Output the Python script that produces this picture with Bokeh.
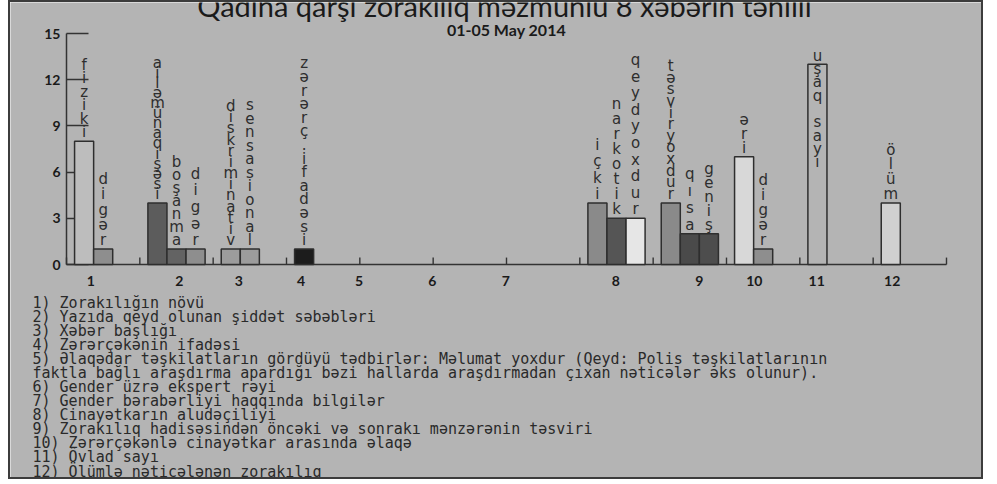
from bokeh.plotting import figure
from bokeh.models import Range1d, FixedTicker, Label, ColumnDataSource, LinearAxis
from bokeh.core.properties import value
from bokeh.embed import file_html
from bokeh.resources import INLINE

# ---------------- data ----------------
categories = ["1", "2", "3", "4", "5", "6", "7", "8", "9", "10", "11", "12"]
category_label_pos = [0.33, 1.54, 2.35, 3.2, 3.99, 4.99, 5.99, 7.49, 8.63, 9.38, 10.23, 11.26]
bar_category = [1, 1, 2, 2, 2, 3, 3, 4, 8, 8, 8, 9, 9, 9, 10, 10, 11, 12]
bar_labels = ["fiziki", "digər", "ailəmünaqişəsi", "boşanma", "digər",
              "diskriminativ", "sensasional", "zərərç.ifadəsi",
              "içki", "narkotik", "qeydyoxdur", "təsviryoxdur", "qısa", "geniş",
              "əri", "digər", "uşaq sayı", "ölüm"]
bar_values = [8, 1, 4, 1, 1, 1, 1, 1, 4, 3, 3, 4, 2, 2, 7, 1, 13, 4]
y_ticks = [0, 3, 6, 9, 12, 15]
title_text = "Qadına qarşı zorakılıq məzmunlu 8 xəbərin təhlili"
subtitle_text = "01-05 May 2014"
notes = [
    "1) Zorakılığın növü",
    "2) Yazıda qeyd olunan şiddət səbəbləri",
    "3) Xəbər başlığı",
    "4) Zərərçəkənin ifadəsi",
    "5) Əlaqədar təşkilatların gördüyü tədbirlər: Məlumat yoxdur (Qeyd: Polis təşkilatlarının",
    "faktla bağlı araşdırma apardığı bəzi hallarda araşdırmadan çıxan nəticələr əks olunur).",
    "6) Gender üzrə ekspert rəyi",
    "7) Gender bərabərliyi haqqında bilgilər",
    "8) Cinayətkarın aludəçiliyi",
    "9) Zorakılıq hadisəsindən öncəki və sonrakı mənzərənin təsviri",
    "10) Zərərçəkənlə cinayətkar arasında əlaqə",
    "11) Övlad sayı",
    "12) Ölümlə nəticələnən zorakılıq",
]

# ---------------- styles / layout ----------------
BG = "#b4b4b4"
EDGE = "#2e2e2e"
AXIS = "#333333"
W, H = 971, 475                 # canvas size
AX_LEFT, AX_BOTTOM = 56, 262    # pixel position of the (0, 0) corner of the chart
PX_X, PX_Y = 73.333, 15.4       # pixels per unit
bar_fill = ["#bdbdbd", "#8e8e8e", "#5c5c5c", "#636363", "#8e8e8e",
            "#9c9c9c", "#9c9c9c", "#1c1c1c",
            "#8a8a8a", "#555555", "#e6e6e6", "#8a8a8a", "#4a4a4a", "#4d4d4d",
            "#d8d8d8", "#8e8e8e", "#b4b4b4", "#d0d0d0"]
label_line_height = [0.75, 0.845, 0.56, 0.725, 0.92, 0.62, 0.75, 0.755,
                     0.90, 0.835, 0.92, 0.645, 0.93, 0.77, 0.76, 0.83, 0.74, 0.82]
label_y_offset = [0, 0, 0, 0, 0, 0, 0, 0, 0, 0, 0, 0, 0, 0, 0, 0, 107, 0]
BAR_W = 0.26
BAR_PAD = 0.11
NOTE_BASE, NOTE_STEP = 300.3, 14.06

slots = []
seen = {}
for c in bar_category:
    slots.append(seen.get(c, 0))
    seen[c] = seen.get(c, 0) + 1
bar_x = [(c - 1) + BAR_PAD + s * BAR_W + BAR_W / 2 for c, s in zip(bar_category, slots)]

src = ColumnDataSource(dict(
    x=bar_x, top=bar_values, fill=bar_fill,
    vtext=["\n".join(list(t)) for t in bar_labels],
    lh=label_line_height, yoff=label_y_offset,
))

x_range = Range1d(-AX_LEFT / PX_X, (W - AX_LEFT) / PX_X)
y_range = Range1d(-(H - AX_BOTTOM) / PX_Y, AX_BOTTOM / PX_Y)

p = figure(width=W, height=H, x_range=x_range, y_range=y_range,
           x_axis_type=None, y_axis_type=None,
           output_backend="svg", toolbar_location=None, title=None,
           min_border=0, min_border_left=0, min_border_right=0,
           min_border_top=0, min_border_bottom=0,
           background_fill_color=BG, border_fill_color=BG, outline_line_color=None,
           styles={"margin-left": "10px", "margin-top": "2px",
                   "outline": "2px solid #3c3c3c"})
p.xgrid.visible = False
p.ygrid.visible = False

yax = LinearAxis(fixed_location=0, bounds=(0, max(y_ticks)),
                 ticker=FixedTicker(ticks=y_ticks))
yax.major_tick_in = 22
yax.major_tick_out = 0
yax.minor_tick_in = 0
yax.minor_tick_out = 0
yax.major_label_standoff = 6
yax.level = "underlay"
p.add_layout(yax, "left")

xax = LinearAxis(fixed_location=0, bounds=(0, len(categories)),
                 ticker=FixedTicker(ticks=category_label_pos))
xax.major_label_overrides = {pos: lab for pos, lab in zip(category_label_pos, categories)}
xax.major_tick_in = 0
xax.major_tick_out = 0
xax.minor_tick_in = 0
xax.minor_tick_out = 0
xax.major_label_standoff = 11
xax.level = "underlay"
p.add_layout(xax, "below")

for ax in (xax, yax):
    ax.axis_line_color = AXIS
    ax.axis_line_width = 1.5
    ax.major_tick_line_color = AXIS
    ax.major_tick_line_width = 1.3
    ax.major_label_text_font = "Lato"
    ax.major_label_text_font_style = "bold"
    ax.major_label_text_font_size = "14px"
    ax.major_label_text_color = "#1a1a1a"

# category boundary ticks (pointing up)
bounds = list(range(len(categories) + 1))
p.segment(x0=bounds, y0=[0] * len(bounds), x1=bounds, y1=[0.45] * len(bounds),
          line_color=AXIS, line_width=1.4)

# bars
p.vbar(x="x", top="top", bottom=0, width=BAR_W, source=src,
       fill_color="fill", line_color=EDGE, line_width=1.5)

# vertical letter labels
p.text(x="x", y="top", text="vtext", source=src,
       text_font=value("DejaVu Sans"), text_font_size="15px",
       text_align="center", text_baseline="bottom",
       text_line_height="lh", y_offset="yoff", text_color="#2e2e2e")

# title & subtitle (screen units: from the canvas bottom-left)
p.add_layout(Label(x=494, y=H - 3, x_units="screen", y_units="screen",
                   text=title_text, text_align="center", text_baseline="alphabetic",
                   text_font="Lato", text_font_size="29px", text_color="#1a1a1a"))
p.add_layout(Label(x=496, y=H - 27, x_units="screen", y_units="screen",
                   text=subtitle_text, text_align="center", text_baseline="alphabetic",
                   text_font="Lato", text_font_style="bold", text_font_size="16px",
                   text_color="#1a1a1a"))

# notes under the chart
for i, line in enumerate(notes):
    p.add_layout(Label(x=22, y=H - (NOTE_BASE + i * NOTE_STEP), x_units="screen", y_units="screen",
                       text=line, text_align="left", text_baseline="alphabetic",
                       text_font="DejaVu Sans Mono", text_font_size="15px",
                       text_color="#2a2a2a"))

open("out.html", "w").write(file_html(p, INLINE))
